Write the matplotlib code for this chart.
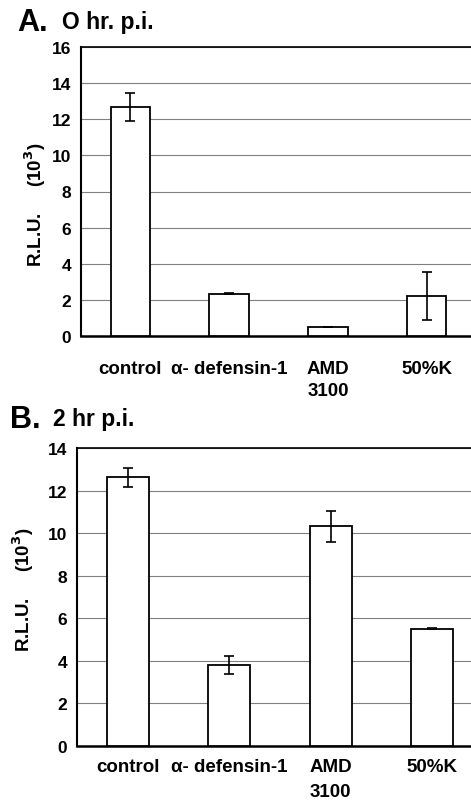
import matplotlib
matplotlib.use("Agg")
import matplotlib.pyplot as plt
import numpy as np

plt.rcParams['font.family'] = ['Liberation Sans', 'DejaVu Sans']
plt.rcParams['font.weight'] = 'bold'

categories = ["control", "\u03b1- defensin-1", "AMD\n3100", "50%K"]

# panel A: 0 hr p.i.
a_values = [12.68, 2.33, 0.5, 2.19]
a_errors = [0.8, 0.03, 0.0, 1.33]

# panel B: 2 hr p.i.
b_values = [12.62, 3.78, 10.33, 5.5]
b_errors = [0.45, 0.43, 0.73, 0.03]


def panel(fig, rect, values, errors, ymax, bar_w, xpad, spacing):
    ax = fig.add_axes(rect)
    x = np.arange(len(categories))
    ax.bar(x, values, width=bar_w, color="white", edgecolor="black", linewidth=1.3, zorder=3)
    ax.errorbar(x, values, yerr=errors, fmt="none", ecolor="black", elinewidth=1.2,
                capsize=3.5, capthick=1.2, zorder=4)
    ax.set_xlim(-0.5, 3.5)
    ax.set_ylim(0, ymax)
    ax.set_yticks(np.arange(0, ymax + 1, 2))
    ax.yaxis.grid(True, color="#808080", linewidth=0.8, zorder=0)
    ax.tick_params(axis="y", length=0, labelsize=12.5, pad=7)
    ax.tick_params(axis="x", length=0, labelsize=13.5, pad=xpad)
    for lab in ax.get_yticklabels():
        lab.set_fontweight("bold")
    ax.set_xticks(x)
    ax.set_xticklabels(categories, fontweight="bold", linespacing=spacing, va="top")
    ax.spines["left"].set_linewidth(1.5)
    ax.spines["bottom"].set_linewidth(1.8)
    ax.spines["top"].set_linewidth(1.2)
    ax.spines["right"].set_visible(False)
    return ax


fig = plt.figure(figsize=(4.71, 8.04), dpi=100)

panel(fig, [81 / 471, 467 / 804, 395 / 471, 289 / 804], a_values, a_errors, 16, 0.4, 17, 1.45)
panel(fig, [77 / 471, 57.3 / 804, 406 / 471, 297.7 / 804], b_values, b_errors, 14, 0.41, 9, 1.6)

ylab = "R.L.U.     (10$^{\\mathbf{3}}$)"
fig.text(35 / 471, 1 - 205 / 804, ylab, rotation=90, ha="center", va="center",
         fontsize=13.5, fontweight="bold")
fig.text(23 / 471, 1 - 590 / 804, ylab, rotation=90, ha="center", va="center",
         fontsize=13.5, fontweight="bold")

fig.text(17 / 471, 1 - 23 / 804, "A.", fontsize=22, fontweight="bold", va="center")
fig.text(62 / 471, 1 - 23 / 804, "O hr. p.i.", fontsize=16.5, fontweight="bold", va="center")
fig.text(10 / 471, 1 - 420 / 804, "B.", fontsize=22, fontweight="bold", va="center")
fig.text(53 / 471, 1 - 420 / 804, "2 hr p.i.", fontsize=16.5, fontweight="bold", va="center")

fig.savefig("out.png", dpi=100)
